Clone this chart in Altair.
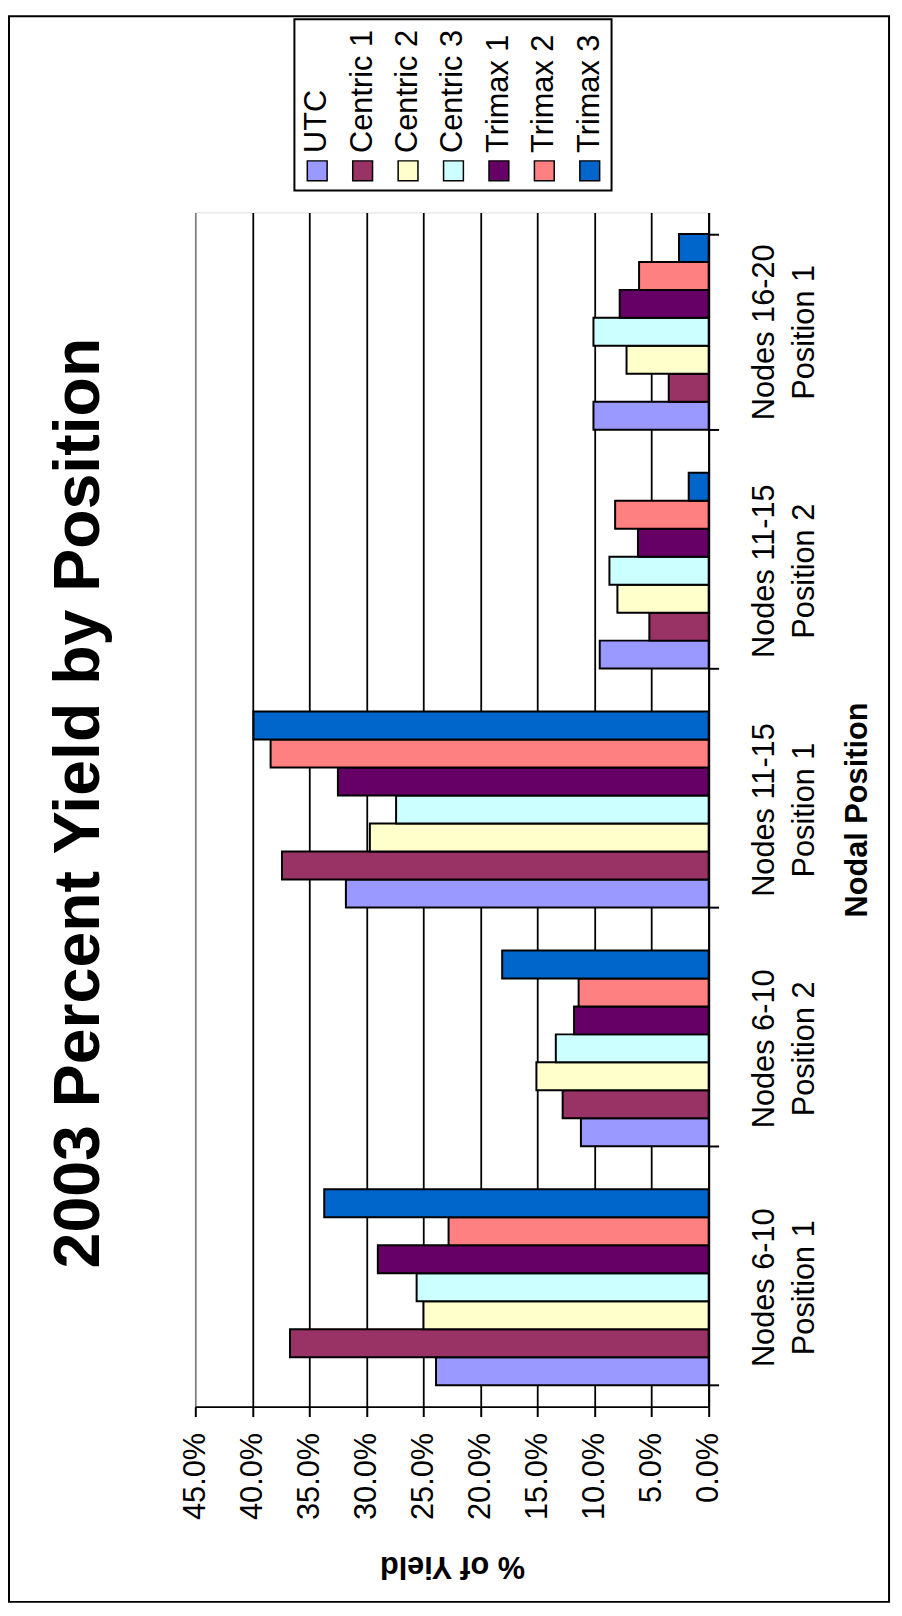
import altair as alt
import pandas as pd

FONT = "Liberation Sans"

chart_title = "2003 Percent Yield by Position"
node_ranges = ["Nodes 6-10", "Nodes 6-10", "Nodes 11-15", "Nodes 11-15", "Nodes 16-20"]
positions = ["Position 1", "Position 2", "Position 1", "Position 2", "Position 1"]
series = ["UTC", "Centric 1", "Centric 2", "Centric 3", "Trimax 1", "Trimax 2", "Trimax 3"]
colors = ["#9999FF", "#993366", "#FFFFCC", "#CCFFFF", "#660066", "#FF8080", "#0066CC"]

utc = [0.239, 0.112, 0.318, 0.0955, 0.101]
centric1 = [0.367, 0.128, 0.374, 0.052, 0.035]
centric2 = [0.250, 0.151, 0.297, 0.080, 0.072]
centric3 = [0.256, 0.134, 0.274, 0.087, 0.101]
trimax1 = [0.290, 0.118, 0.325, 0.062, 0.078]
trimax2 = [0.228, 0.114, 0.384, 0.082, 0.061]
trimax3 = [0.337, 0.181, 0.399, 0.0175, 0.026]

x_ticks = [0.0, 0.05, 0.10, 0.15, 0.20, 0.25, 0.30, 0.35, 0.40, 0.45]

categories = [f"{n}\n{p}" for n, p in zip(node_ranges, positions)]
values_by_series = [utc, centric1, centric2, centric3, trimax1, trimax2, trimax3]

rows = []
for s, vals in zip(series, values_by_series):
    for c, v in zip(categories, vals):
        rows.append({"category": c, "series": s, "value": v})
df = pd.DataFrame(rows)

color_scale = alt.Scale(domain=series, range=colors)

bars = alt.Chart(df).mark_bar(stroke="black", strokeWidth=2).encode(
    x=alt.X(
        "value:Q",
        scale=alt.Scale(domain=[0, 0.45], reverse=True, nice=False),
        axis=alt.Axis(
            orient="bottom", values=x_ticks, format=".1%",
            labelAngle=270, labelAlign="right", labelBaseline="middle",
            labelFontSize=31, labelPadding=16, labelFont=FONT, labelColor="black",
            tickSize=10, tickWidth=2, tickColor="black",
            domainColor="black", domainWidth=2,
            grid=True, gridWidth=1.8,
            gridColor={"condition": {"test": "datum.value > 0.44", "value": "#808080"}, "value": "black"},
            title="% of Yield", titleAngle=180, titleFontSize=31, titleFontWeight="bold",
            titleFont=FONT, titleColor="black", titleX=259, titleY=160,
            titleAlign="center", titleBaseline="middle",
        ),
    ),
    y=alt.Y(
        "category:N",
        sort=list(reversed(categories)),
        scale=alt.Scale(paddingInner=0.18, paddingOuter=0.09),
        axis=alt.Axis(
            orient="right", tickBand="extent",
            tickSize=10, tickWidth=2, tickColor="black",
            domainColor="black", domainWidth=2, grid=False,
            labelAngle=270, labelAlign="center", labelBaseline="top",
            labelFontSize=31, labelLineHeight=41, labelPadding=31, labelLimit=0,
            labelFont=FONT, labelColor="black",
            labelExpr="split(datum.label, '\\n')",
            title="Nodal Position", titleAngle=270, titleFontSize=31, titleFontWeight="bold",
            titleFont=FONT, titleColor="black", titleX=150, titleY=602.5,
            titleAlign="center", titleBaseline="middle",
        ),
    ),
    yOffset=alt.YOffset("series:N", sort=list(reversed(series)),
                        scale=alt.Scale(paddingInner=0, paddingOuter=0)),
    color=alt.Color("series:N", scale=color_scale, legend=None),
)

one = pd.DataFrame({"k": [0]})
frame = alt.Chart(one).mark_rect(filled=False, stroke="black", strokeWidth=2).encode(
    x=alt.value(-188), x2=alt.value(700), y=alt.value(-198), y2=alt.value(1402)
)

title_df = pd.DataFrame({"t": [chart_title]})
title_mark = alt.Chart(title_df).mark_text(
    angle=270, align="center", baseline="alphabetic", fontSize=65, fontWeight="bold",
    font=FONT, color="black",
).encode(x=alt.value(-97), y=alt.value(596), text="t:N")

leg_df = pd.DataFrame({"series": series})
leg_x = alt.X("series:N", sort=series, scale=alt.Scale(type="point", range=[123, 398], padding=0), axis=None)

leg_box = alt.Chart(one).mark_rect(fill="white", stroke="black", strokeWidth=2).encode(
    x=alt.value(100), x2=alt.value(420), y=alt.value(-195), y2=alt.value(-22)
)
leg_sym = alt.Chart(leg_df).mark_square(size=400, filled=True, opacity=1, stroke="black", strokeWidth=1.5).encode(
    x=leg_x, y=alt.value(-42), color=alt.Color("series:N", scale=color_scale, legend=None)
)
leg_txt = alt.Chart(leg_df).mark_text(angle=270, align="left", baseline="middle", fontSize=31, font=FONT, color="black").encode(
    x=leg_x, y=alt.value(-60), text="series:N"
)
legend = alt.layer(leg_box, leg_sym, leg_txt)

chart = alt.layer(frame, title_mark, bars, legend).resolve_scale(x="independent", y="independent").properties(
    width=518,
    height=1205,
    autosize=alt.AutoSizeParams(type="none"),
    padding={"left": 189, "top": 199, "right": 187, "bottom": 204},
).configure_view(stroke="#808080", strokeWidth=1.5).configure(background="white")

chart.save("out.html", embed_options={"renderer": "svg", "actions": False})
